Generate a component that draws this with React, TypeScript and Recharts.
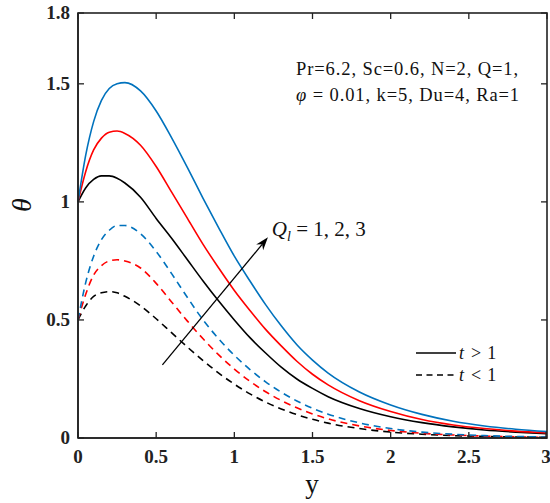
import { LineChart, Line, XAxis, YAxis, ReferenceLine, ReferenceDot } from "recharts";

const yPoints = [0, 0.05, 0.1, 0.15, 0.2, 0.25, 0.3, 0.4, 0.5, 0.6, 0.7, 0.8, 0.9, 1.0, 1.1, 1.2, 1.3, 1.4, 1.5, 1.6, 1.8, 2.0, 2.2, 2.4, 2.6, 2.8, 3.0];

// t > 1 (solid)
const thetaQ1Late = [1.00, 1.06, 1.095, 1.11, 1.11, 1.10, 1.08, 1.02, 0.93, 0.845, 0.755, 0.665, 0.58, 0.50, 0.425, 0.36, 0.30, 0.25, 0.21, 0.175, 0.125, 0.09, 0.065, 0.047, 0.034, 0.025, 0.018];
const thetaQ2Late = [1.00, 1.13, 1.22, 1.27, 1.295, 1.30, 1.29, 1.24, 1.15, 1.04, 0.93, 0.82, 0.72, 0.625, 0.54, 0.46, 0.39, 0.325, 0.27, 0.225, 0.158, 0.112, 0.078, 0.055, 0.04, 0.029, 0.021];
const thetaQ3Late = [1.00, 1.20, 1.34, 1.43, 1.48, 1.50, 1.505, 1.47, 1.385, 1.27, 1.145, 1.015, 0.89, 0.77, 0.665, 0.565, 0.475, 0.395, 0.33, 0.275, 0.195, 0.14, 0.10, 0.071, 0.051, 0.037, 0.027];

// t < 1 (dashed)
const thetaQ1Early = [0.50, 0.56, 0.60, 0.615, 0.62, 0.615, 0.60, 0.56, 0.505, 0.445, 0.385, 0.328, 0.275, 0.228, 0.187, 0.152, 0.123, 0.099, 0.079, 0.063, 0.04, 0.025, 0.016, 0.01, 0.0065, 0.004, 0.003];
const thetaQ2Early = [0.50, 0.61, 0.69, 0.73, 0.75, 0.755, 0.75, 0.72, 0.655, 0.575, 0.495, 0.42, 0.352, 0.292, 0.24, 0.196, 0.159, 0.128, 0.102, 0.081, 0.051, 0.032, 0.02, 0.013, 0.008, 0.005, 0.003];
const thetaQ3Early = [0.50, 0.66, 0.77, 0.84, 0.88, 0.90, 0.90, 0.865, 0.79, 0.695, 0.595, 0.50, 0.42, 0.35, 0.29, 0.238, 0.194, 0.157, 0.126, 0.101, 0.064, 0.04, 0.025, 0.016, 0.01, 0.0065, 0.004];

const xTicks = [0, 0.5, 1, 1.5, 2, 2.5, 3];
const yTicks = [0, 0.5, 1, 1.5, 1.8];
const X_MAX = 3;
const Y_MAX = 1.8;

const data = yPoints.map((y, i) => ({
    y,
    q1Late: thetaQ1Late[i],
    q2Late: thetaQ2Late[i],
    q3Late: thetaQ3Late[i],
    q1Early: thetaQ1Early[i],
    q2Early: thetaQ2Early[i],
    q3Early: thetaQ3Early[i],
}));

// chart box (same numbers as the margins / axis sizes below)
const W = 550, H = 503;
const BOX = {left: 78, top: 13, right: W - 3, bottom: H - 65};

const serif = "'Liberation Serif', 'Times New Roman', serif";
const AXIS = "#222222";
const DASH = "7 5";

const BottomTick = ({x, y, payload}: any) => (
    <g>
        <line x1={x} x2={x} y1={y} y2={y - 6} stroke={AXIS} strokeWidth={1.3}/>
        <text x={x} y={y + 25} textAnchor="middle" fontFamily={serif} fontWeight="bold" fontSize={19} fill="#222">
            {payload.value}
        </text>
    </g>
);

const LeftTick = ({x, y, payload}: any) => (
    <g>
        <line x1={x} x2={x + 6} y1={y} y2={y} stroke={AXIS} strokeWidth={1.3}/>
        <text x={x - 8} y={y + 6} textAnchor="end" fontFamily={serif} fontWeight="bold" fontSize={19} fill="#222">
            {payload.value}
        </text>
    </g>
);

const Arrow = ({x1, y1, x2, y2}: any) => {
    const a = Math.atan2(y2 - y1, x2 - x1);
    const len = 13, half = 4.5;
    const bx = x2 - len * Math.cos(a), by = y2 - len * Math.sin(a);
    const nx = -Math.sin(a) * half, ny = Math.cos(a) * half;
    const mx = x2 - len * 0.7 * Math.cos(a), my = y2 - len * 0.7 * Math.sin(a);
    return (
        <g>
            <line x1={x1} y1={y1} x2={mx} y2={my} stroke="#000" strokeWidth={1.3}/>
            <polygon points={`${x2},${y2} ${bx + nx},${by + ny} ${mx},${my} ${bx - nx},${by - ny}`} fill="#000"/>
        </g>
    );
};

const QLabel = ({cx, cy}: any) => (
    <text x={cx} y={cy} fontFamily={serif} fontSize={21} fill="#111">
        <tspan fontStyle="italic">Q</tspan>
        <tspan fontStyle="italic" fontSize={14} dy={5}>l</tspan>
        <tspan dy={-5}> = 1, 2, 3</tspan>
    </text>
);

export default function App() {
    const bw = BOX.right - BOX.left;
    const bh = BOX.bottom - BOX.top;
    return (
        <div style={{position: "fixed", top: 0, left: 0, width: W, height: H, background: "#fff"}}>
            <LineChart width={W} height={H} data={data} margin={{top: 13, right: 3, bottom: 0, left: 0}}>
                <XAxis xAxisId="b" dataKey="y" type="number" domain={[0, X_MAX]} ticks={xTicks} height={65}
                       stroke={AXIS} strokeWidth={1.6} tickSize={0} tickMargin={0} tick={<BottomTick/>}/>
                <YAxis yAxisId="l" type="number" domain={[0, Y_MAX]} ticks={yTicks} width={78}
                       stroke={AXIS} strokeWidth={1.6} tickSize={0} tickMargin={0} tick={<LeftTick/>}/>

                <Line xAxisId="b" yAxisId="l" type="monotone" dataKey="q1Early" stroke="#000000" strokeWidth={1.6} strokeDasharray={DASH} dot={false} isAnimationActive={false}/>
                <Line xAxisId="b" yAxisId="l" type="monotone" dataKey="q2Early" stroke="#ff0000" strokeWidth={1.6} strokeDasharray={DASH} dot={false} isAnimationActive={false}/>
                <Line xAxisId="b" yAxisId="l" type="monotone" dataKey="q3Early" stroke="#0072bd" strokeWidth={1.6} strokeDasharray={DASH} dot={false} isAnimationActive={false}/>
                <Line xAxisId="b" yAxisId="l" type="monotone" dataKey="q1Late" stroke="#000000" strokeWidth={1.6} dot={false} isAnimationActive={false}/>
                <Line xAxisId="b" yAxisId="l" type="monotone" dataKey="q2Late" stroke="#ff0000" strokeWidth={1.6} dot={false} isAnimationActive={false}/>
                <Line xAxisId="b" yAxisId="l" type="monotone" dataKey="q3Late" stroke="#0072bd" strokeWidth={1.6} dot={false} isAnimationActive={false}/>

                {/* Q_l arrow */}
                <ReferenceLine xAxisId="b" yAxisId="l" segment={[{x: 0.54, y: 0.31}, {x: 1.215, y: 0.85}]} shape={<Arrow/>}/>
                <ReferenceDot xAxisId="b" yAxisId="l" x={1.24} y={0.855} r={0} shape={<QLabel/>}/>
            </LineChart>

            {/* parameters */}
            <div style={{position: "absolute", left: 296, top: 56, fontFamily: serif, fontSize: 18.5, letterSpacing: 0.9, lineHeight: "26px", color: "#111", whiteSpace: "nowrap"}}>
                <div>Pr=6.2, Sc=0.6, N=2, Q=1,</div>
                <div><i>φ</i> = 0.01, k=5, Du=4, Ra=1</div>
            </div>

            {/* legend */}
            <svg style={{position: "absolute", left: 412, top: 340}} width={120} height={46}>
                <line x1={4} x2={44} y1={13} y2={13} stroke="#000" strokeWidth={1.6}/>
                <text x={47} y={19} fontFamily={serif} fontSize={18} fill="#111">
                    <tspan fontStyle="italic">t</tspan><tspan dx={7}>&gt;</tspan><tspan dx={6}>1</tspan>
                </text>
                <line x1={4} x2={44} y1={35} y2={35} stroke="#000" strokeWidth={1.6} strokeDasharray="6 4.5"/>
                <text x={47} y={41} fontFamily={serif} fontSize={18} fill="#111">
                    <tspan fontStyle="italic">t</tspan><tspan dx={7}>&lt;</tspan><tspan dx={6}>1</tspan>
                </text>
            </svg>

            {/* box edges with mirrored ticks, and axis titles */}
            <svg style={{position: "absolute", left: 0, top: 0}} width={W} height={H} pointerEvents="none">
                <rect x={BOX.left} y={BOX.top} width={bw} height={bh} fill="none" stroke={AXIS} strokeWidth={1.6}/>
                {xTicks.map((t) => {
                    const x = BOX.left + (t / X_MAX) * bw;
                    return <line key={`tx${t}`} x1={x} x2={x} y1={BOX.top} y2={BOX.top + 6} stroke={AXIS} strokeWidth={1.3}/>;
                })}
                {yTicks.map((t) => {
                    const y = BOX.bottom - (t / Y_MAX) * bh;
                    return <line key={`ry${t}`} x1={BOX.right} x2={BOX.right - 6} y1={y} y2={y} stroke={AXIS} strokeWidth={1.3}/>;
                })}
                <text x={21} y={205} transform="rotate(-90, 21, 205)" textAnchor="middle" dominantBaseline="central"
                      fontFamily={serif} fontSize={28} fontStyle="italic" fill="#111">θ</text>
                <text x={312} y={493} textAnchor="middle" fontFamily={serif} fontSize={27} fill="#111">y</text>
            </svg>
        </div>
    );
}
